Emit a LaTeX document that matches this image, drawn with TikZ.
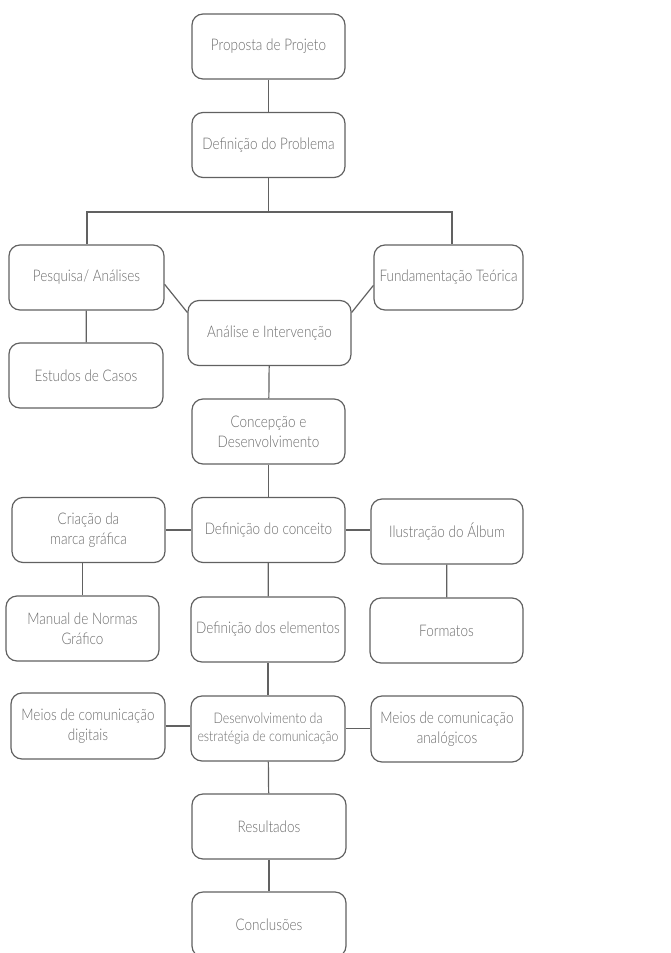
\documentclass[tikz,border=0pt]{standalone}
\usepackage{fontspec}
\setmainfont{Lato Light}[FakeStretch=0.845]
\usepackage{tikz}
\usetikzlibrary{positioning}

\begin{document}
\begin{tikzpicture}[x=1pt, y=-1pt,
  stepbox/.style={draw=black!62, line width=1.2pt, rounded corners=11pt,
               minimum width=153pt, minimum height=65pt, inner sep=2pt,
               align=center, text=black!58,
               font=\fontsize{16}{20}\selectfont},
  small/.style={font=\fontsize{14.6}{18.5}\selectfont},
  link/.style={draw=black!62, line width=1.2pt}
]
  \useasboundingbox (0,0) rectangle (671,953);
  \clip (0,0) rectangle (671,953);

  % Main column
  \node[stepbox] (prop) at (268.5,46.5) {Proposta de Projeto};
  \node[stepbox] (prob) at (268.5,145) {Definição do Problema};
  \node[stepbox, minimum width=163pt] (anal) at (269.5,333) {Análise e Intervenção};
  \node[stepbox] (conc) at (268.5,431.5) {Concepção e\\Desenvolvimento};
  \node[stepbox] (defc) at (268.5,530) {Definição do conceito};
  \node[stepbox, minimum width=154pt] (defe) at (268,629.5) {Definição dos elementos};
  \node[stepbox, small, minimum width=154pt] (dest) at (268,728.5) {Desenvolvimento da\\estratégia de comunicação};
  \node[stepbox, minimum width=154pt] (res) at (269,826.5) {Resultados};
  \node[stepbox, minimum width=154pt] (concl) at (269,924.5) {Conclusões};

  % Left branch
  \node[stepbox, minimum width=155pt] (pesq) at (86.5,277.5) {Pesquisa/ Análises};
  \node[stepbox, minimum width=154pt] (estud) at (86,375.5) {Estudos de Casos};
  \node[stepbox] (criac) at (88.5,530) {Criação da\\marca gráfica};
  \node[stepbox] (manual) at (82.5,628.5) {Manual de Normas\\Gráfico};
  \node[stepbox, minimum width=154pt, minimum height=66pt] (mdig) at (88,726) {Meios de comunicação\\digitais};

  % Right branch
  \node[stepbox, minimum width=149pt] (fund) at (448.5,277.5) {Fundamentação Teórica};
  \node[stepbox, minimum width=152pt] (ilus) at (447,531.5) {Ilustração do Álbum};
  \node[stepbox] (form) at (446.5,630.5) {Formatos};
  \node[stepbox, minimum width=152pt, minimum height=66pt] (mana) at (447,729) {Meios de comunicação\\analógicos};

  % Split under the problem
  \coordinate (splitL) at (87,212);
  \coordinate (splitR) at (452,212);
  \draw[link] (prop) -- (prob);
  \draw[link] (prob.south) -- (prob.south |- splitL);
  \draw[link] (pesq.north -| splitL) -- (splitL) -- (splitR) -- (fund.north -| splitR);

  % Into the analysis
  \draw[link] (pesq.-5.5) -- (anal.166);
  \draw[link] (fund.186) -- (anal.14);
  \draw[link] (pesq) -- (estud);

  % Down the middle
  \draw[link] (anal) -- (conc);
  \draw[link] (conc) -- (defc);
  \draw[link] (defc) -- (defe);
  \draw[link] (defe) -- (dest);
  \draw[link] (dest) -- (res);
  \draw[link] (res) -- (concl);

  % Side links
  \draw[link] (criac.east) -- (criac.east -| defc.west);
  \draw[link] (defc.east) -- (defc.east -| ilus.west);
  \draw[link] (manual.north) -- (manual.north |- criac.south);
  \draw[link] (ilus) -- (form);
  \draw[link] (mdig.east) -- (mdig.east -| dest.west);
  \draw[link] (dest.east) -- (dest.east -| mana.west);
\end{tikzpicture}
\end{document}
